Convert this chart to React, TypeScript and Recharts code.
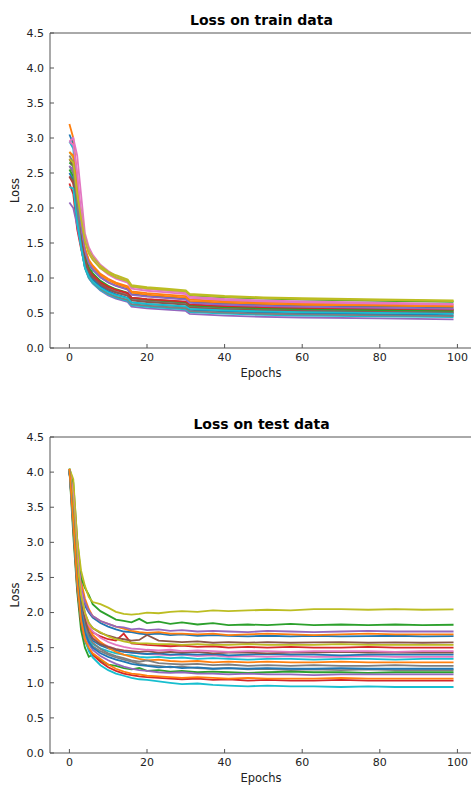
import { LineChart, Line, XAxis, YAxis, ReferenceLine } from 'recharts';

// epochs where each run was sampled
const trainEpochs = [0, 1, 2, 3, 4, 5, 6, 8, 10, 12, 15, 16, 20, 25, 30, 31, 40, 50, 60, 80, 99];
const testEpochs = [0, 1, 2, 3, 4, 5, 6, 8, 10, 12, 14, 16, 18, 20, 23, 26, 29, 33, 37, 41, 46, 51, 57, 63, 70, 77, 84, 91, 99];

const xTicks = [0, 20, 40, 60, 80, 100];
const yTicks = [0, 0.5, 1, 1.5, 2, 2.5, 3, 3.5, 4, 4.5];

// train loss per run
const train00 = [3.05, 2.92, 2.35, 1.68, 1.36, 1.20, 1.12, 1.01, 0.94, 0.89, 0.84, 0.77, 0.745, 0.725, 0.705, 0.66, 0.635, 0.618, 0.607, 0.593, 0.58];
const train01 = [3.2, 3.0, 2.45, 1.77, 1.43, 1.26, 1.18, 1.06, 0.99, 0.935, 0.883, 0.81, 0.783, 0.762, 0.741, 0.694, 0.668, 0.65, 0.638, 0.624, 0.61];
const train02 = [2.65, 2.6, 2.2, 1.92, 1.56, 1.37, 1.28, 1.15, 1.07, 1.02, 0.96, 0.878, 0.85, 0.827, 0.804, 0.752, 0.723, 0.704, 0.691, 0.675, 0.66];
const train03 = [2.35, 2.2, 1.7, 1.42, 1.17, 1.04, 0.975, 0.89, 0.835, 0.795, 0.753, 0.697, 0.677, 0.661, 0.645, 0.609, 0.589, 0.575, 0.567, 0.555, 0.545];
const train04 = [2.08, 2.0, 1.75, 1.45, 1.15, 1.0, 0.923, 0.82, 0.752, 0.705, 0.657, 0.59, 0.567, 0.548, 0.529, 0.486, 0.462, 0.446, 0.436, 0.422, 0.41];
const train05 = [2.7, 2.6, 2.1, 1.62, 1.30, 1.14, 1.06, 0.95, 0.88, 0.83, 0.78, 0.71, 0.685, 0.665, 0.645, 0.60, 0.575, 0.558, 0.547, 0.533, 0.52];
const train06 = [2.95, 3.0, 2.75, 2.2, 1.64, 1.44, 1.33, 1.19, 1.10, 1.03, 0.968, 0.877, 0.845, 0.818, 0.793, 0.734, 0.702, 0.679, 0.665, 0.647, 0.63];
const train07 = [2.6, 2.5, 2.0, 1.56, 1.25, 1.10, 1.02, 0.92, 0.852, 0.805, 0.757, 0.69, 0.667, 0.648, 0.629, 0.586, 0.562, 0.546, 0.536, 0.522, 0.51];
const train08 = [2.8, 2.72, 2.3, 1.95, 1.58, 1.39, 1.30, 1.17, 1.09, 1.04, 0.98, 0.899, 0.87, 0.847, 0.824, 0.772, 0.743, 0.724, 0.711, 0.695, 0.68];
const train09 = [2.95, 2.85, 2.15, 1.45, 1.14, 1.0, 0.926, 0.827, 0.764, 0.719, 0.674, 0.611, 0.589, 0.571, 0.553, 0.512, 0.49, 0.474, 0.464, 0.452, 0.44];
const train10 = [2.5, 2.4, 1.9, 1.52, 1.21, 1.06, 0.983, 0.879, 0.812, 0.765, 0.717, 0.65, 0.627, 0.608, 0.589, 0.546, 0.522, 0.506, 0.496, 0.482, 0.47];
const train11 = [2.8, 2.75, 2.25, 1.75, 1.41, 1.24, 1.16, 1.04, 0.968, 0.916, 0.863, 0.79, 0.763, 0.742, 0.721, 0.674, 0.648, 0.63, 0.618, 0.604, 0.59];
const train12 = [2.55, 2.45, 2.0, 1.63, 1.31, 1.15, 1.07, 0.96, 0.89, 0.84, 0.79, 0.72, 0.695, 0.675, 0.655, 0.61, 0.585, 0.568, 0.557, 0.543, 0.53];
const train13 = [2.45, 2.35, 1.85, 1.54, 1.25, 1.11, 1.04, 0.937, 0.874, 0.829, 0.784, 0.721, 0.699, 0.681, 0.663, 0.622, 0.6, 0.584, 0.574, 0.562, 0.55];
const train14 = [2.6, 2.55, 2.1, 1.72, 1.38, 1.21, 1.13, 1.01, 0.938, 0.886, 0.833, 0.76, 0.733, 0.712, 0.691, 0.644, 0.618, 0.6, 0.588, 0.574, 0.56];
const train15 = [2.45, 2.38, 1.95, 1.55, 1.24, 1.09, 1.01, 0.909, 0.842, 0.795, 0.747, 0.68, 0.657, 0.638, 0.619, 0.576, 0.552, 0.536, 0.526, 0.512, 0.50];
const train16 = [2.95, 2.9, 2.5, 1.95, 1.56, 1.36, 1.27, 1.14, 1.05, 0.992, 0.932, 0.848, 0.818, 0.794, 0.77, 0.716, 0.686, 0.666, 0.652, 0.636, 0.62];
const train17 = [2.75, 2.65, 2.05, 1.45, 1.16, 1.01, 0.941, 0.842, 0.779, 0.734, 0.689, 0.626, 0.604, 0.586, 0.568, 0.527, 0.505, 0.489, 0.479, 0.467, 0.455];
const train18 = [2.7, 2.65, 2.2, 1.85, 1.53, 1.35, 1.26, 1.14, 1.07, 1.01, 0.956, 0.879, 0.852, 0.83, 0.808, 0.758, 0.73, 0.712, 0.7, 0.684, 0.67];
const train19 = [2.3, 2.28, 1.8, 1.45, 1.15, 1.02, 0.949, 0.856, 0.796, 0.754, 0.711, 0.652, 0.63, 0.613, 0.596, 0.558, 0.537, 0.522, 0.513, 0.501, 0.49];

// test loss per run
const test00 = [4.03, 3.55, 2.75, 2.25, 2.1, 2.0, 1.93, 1.85, 1.80, 1.76, 1.73, 1.72, 1.70, 1.69, 1.70, 1.68, 1.69, 1.67, 1.68, 1.67, 1.66, 1.67, 1.66, 1.67, 1.66, 1.665, 1.67, 1.66, 1.665];
const test01 = [4.04, 3.75, 2.95, 2.45, 2.2, 2.05, 1.95, 1.88, 1.84, 1.80, 1.77, 1.74, 1.72, 1.71, 1.72, 1.70, 1.70, 1.69, 1.70, 1.68, 1.69, 1.70, 1.69, 1.68, 1.69, 1.70, 1.69, 1.69, 1.69];
const test02 = [4.05, 3.85, 3.05, 2.5, 2.35, 2.25, 2.12, 2.02, 1.96, 1.90, 1.88, 1.86, 1.91, 1.85, 1.87, 1.84, 1.86, 1.83, 1.85, 1.82, 1.83, 1.82, 1.84, 1.82, 1.83, 1.82, 1.83, 1.82, 1.826];
const test03 = [4.03, 3.4, 2.6, 2.1, 1.9, 1.78, 1.72, 1.66, 1.62, 1.60, 1.70, 1.56, 1.55, 1.54, 1.53, 1.52, 1.53, 1.51, 1.52, 1.50, 1.51, 1.50, 1.51, 1.50, 1.50, 1.51, 1.50, 1.50, 1.50];
const test04 = [4.04, 3.7, 2.9, 2.35, 2.15, 2.02, 1.95, 1.88, 1.84, 1.80, 1.79, 1.76, 1.77, 1.75, 1.76, 1.74, 1.75, 1.73, 1.74, 1.73, 1.72, 1.74, 1.73, 1.72, 1.73, 1.74, 1.73, 1.73, 1.73];
const test05 = [4.02, 3.45, 2.65, 2.2, 1.98, 1.85, 1.78, 1.71, 1.67, 1.64, 1.62, 1.60, 1.61, 1.68, 1.60, 1.59, 1.58, 1.59, 1.57, 1.58, 1.57, 1.58, 1.57, 1.575, 1.58, 1.57, 1.575, 1.57, 1.575];
const test06 = [4.04, 3.6, 2.8, 2.3, 1.95, 1.75, 1.65, 1.57, 1.52, 1.48, 1.45, 1.43, 1.42, 1.41, 1.40, 1.39, 1.40, 1.38, 1.39, 1.37, 1.38, 1.37, 1.38, 1.37, 1.37, 1.38, 1.37, 1.37, 1.37];
const test07 = [4.03, 3.3, 2.5, 2.0, 1.75, 1.6, 1.52, 1.45, 1.40, 1.36, 1.33, 1.30, 1.27, 1.25, 1.24, 1.22, 1.23, 1.21, 1.20, 1.21, 1.19, 1.20, 1.18, 1.19, 1.18, 1.19, 1.18, 1.18, 1.18];
const test08 = [4.05, 3.9, 3.05, 2.6, 2.38, 2.22, 2.15, 2.12, 2.07, 2.01, 1.98, 1.97, 1.98, 2.00, 1.99, 2.01, 2.02, 2.01, 2.03, 2.02, 2.03, 2.04, 2.03, 2.05, 2.05, 2.04, 2.05, 2.04, 2.046];
const test09 = [4.02, 3.35, 2.55, 2.05, 1.78, 1.62, 1.55, 1.49, 1.45, 1.42, 1.40, 1.39, 1.37, 1.36, 1.37, 1.35, 1.36, 1.34, 1.35, 1.34, 1.33, 1.34, 1.34, 1.33, 1.34, 1.34, 1.33, 1.34, 1.34];
const test10 = [4.03, 3.5, 2.7, 2.15, 1.85, 1.68, 1.6, 1.53, 1.49, 1.46, 1.44, 1.43, 1.42, 1.41, 1.42, 1.40, 1.41, 1.40, 1.41, 1.39, 1.40, 1.41, 1.40, 1.40, 1.39, 1.40, 1.40, 1.40, 1.40];
const test11 = [4.04, 3.6, 2.8, 2.25, 1.95, 1.78, 1.68, 1.58, 1.50, 1.44, 1.40, 1.37, 1.34, 1.32, 1.33, 1.31, 1.30, 1.31, 1.29, 1.30, 1.29, 1.30, 1.29, 1.29, 1.30, 1.29, 1.29, 1.29, 1.29];
const test12 = [4.03, 3.1, 2.3, 1.75, 1.5, 1.37, 1.40, 1.32, 1.26, 1.24, 1.21, 1.19, 1.21, 1.17, 1.18, 1.16, 1.17, 1.15, 1.16, 1.15, 1.14, 1.15, 1.16, 1.15, 1.15, 1.14, 1.15, 1.15, 1.15];
const test13 = [4.04, 3.2, 2.35, 1.85, 1.6, 1.48, 1.40, 1.30, 1.22, 1.17, 1.13, 1.11, 1.09, 1.08, 1.07, 1.06, 1.05, 1.06, 1.04, 1.05, 1.03, 1.04, 1.03, 1.03, 1.04, 1.03, 1.03, 1.03, 1.03];
const test14 = [4.03, 3.3, 2.45, 1.95, 1.68, 1.55, 1.47, 1.38, 1.32, 1.27, 1.23, 1.20, 1.18, 1.17, 1.15, 1.14, 1.15, 1.13, 1.13, 1.12, 1.13, 1.12, 1.12, 1.11, 1.12, 1.12, 1.12, 1.12, 1.12];
const test15 = [4.02, 3.5, 2.7, 2.2, 1.9, 1.72, 1.63, 1.55, 1.51, 1.48, 1.46, 1.45, 1.44, 1.45, 1.43, 1.44, 1.43, 1.44, 1.42, 1.43, 1.43, 1.42, 1.43, 1.43, 1.44, 1.43, 1.43, 1.43, 1.43];
const test16 = [4.04, 3.65, 2.85, 2.3, 2.0, 1.82, 1.73, 1.64, 1.58, 1.54, 1.51, 1.49, 1.48, 1.47, 1.46, 1.47, 1.45, 1.46, 1.45, 1.44, 1.45, 1.45, 1.44, 1.45, 1.45, 1.45, 1.44, 1.45, 1.45];
const test17 = [4.03, 3.4, 2.55, 2.05, 1.8, 1.65, 1.57, 1.48, 1.42, 1.38, 1.35, 1.32, 1.30, 1.32, 1.28, 1.27, 1.26, 1.27, 1.25, 1.26, 1.24, 1.25, 1.24, 1.25, 1.24, 1.24, 1.25, 1.24, 1.24];
const test18 = [4.04, 3.55, 2.75, 2.25, 2.0, 1.85, 1.78, 1.72, 1.66, 1.62, 1.59, 1.57, 1.56, 1.56, 1.55, 1.55, 1.54, 1.55, 1.54, 1.54, 1.55, 1.54, 1.54, 1.54, 1.55, 1.54, 1.54, 1.54, 1.54];
const test19 = [4.03, 3.25, 2.4, 1.9, 1.62, 1.45, 1.36, 1.25, 1.18, 1.13, 1.10, 1.07, 1.05, 1.04, 1.02, 1.00, 0.98, 0.99, 0.97, 0.96, 0.95, 0.96, 0.95, 0.95, 0.94, 0.95, 0.94, 0.94, 0.94];
const test20 = [4.02, 3.35, 2.5, 2.0, 1.72, 1.58, 1.50, 1.42, 1.37, 1.33, 1.30, 1.27, 1.25, 1.24, 1.22, 1.23, 1.21, 1.22, 1.20, 1.21, 1.20, 1.21, 1.20, 1.20, 1.21, 1.20, 1.20, 1.20, 1.20];
const test21 = [4.04, 3.3, 2.45, 1.9, 1.62, 1.5, 1.42, 1.34, 1.26, 1.20, 1.16, 1.13, 1.12, 1.10, 1.09, 1.08, 1.07, 1.08, 1.07, 1.06, 1.07, 1.06, 1.06, 1.06, 1.07, 1.06, 1.06, 1.06, 1.06];

const trainRuns = [train00, train01, train02, train03, train04, train05, train06, train07, train08, train09,
  train10, train11, train12, train13, train14, train15, train16, train17, train18, train19];
const testRuns = [test00, test01, test02, test03, test04, test05, test06, test07, test08, test09,
  test10, test11, test12, test13, test14, test15, test16, test17, test18, test19, test20, test21];

const COLORS = ['#1f77b4', '#ff7f0e', '#2ca02c', '#d62728', '#9467bd', '#8c564b', '#e377c2', '#7f7f7f', '#bcbd22', '#17becf'];
const FONT = '"DejaVu Sans", sans-serif';
const AXIS = '#555';
const TEXT = '#222';

function toRows(epochs: number[], runs: number[][]) {
  return epochs.map((epoch, i) => {
    const row: Record<string, number> = { epoch };
    runs.forEach((run, j) => { row['r' + j] = run[i]; });
    return row;
  });
}

interface PanelProps {
  title: string;
  rows: Record<string, number>[];
  count: number;
  height: number;
  plotTop: number;
  plotBottom: number;
}

function LossPanel({ title, rows, count, height, plotTop, plotBottom }: PanelProps) {
  const tickStyle = { fill: TEXT, fontSize: 11, fontFamily: FONT };
  return (
    <div style={{ position: 'relative', width: 471, height }}>
      <LineChart width={471} height={height} data={rows}
        margin={{ top: plotTop, right: 0, bottom: 0, left: 0 }}>
        <XAxis dataKey="epoch" type="number" domain={[-5, 103.5]} ticks={xTicks} interval={0}
          allowDataOverflow height={height - plotBottom} tickSize={-4} tickMargin={9}
          axisLine={{ stroke: AXIS }} tickLine={{ stroke: AXIS }} tick={tickStyle} />
        <YAxis type="number" domain={[0, 4.5]} ticks={yTicks} interval={0} width={50}
          tickSize={-4} tickMargin={10} tickFormatter={(v: number) => v.toFixed(1)}
          axisLine={{ stroke: AXIS }} tickLine={{ stroke: AXIS }} tick={tickStyle} />
        <ReferenceLine y={4.5} stroke={AXIS} />
        {Array.from({ length: count }, (_, j) => (
          <Line key={j} dataKey={'r' + j} type="linear" stroke={COLORS[j % 10]} strokeWidth={1.8}
            dot={false} isAnimationActive={false} />
        ))}
      </LineChart>
      <svg width={471} height={height} style={{ position: 'absolute', left: 0, top: 0, pointerEvents: 'none' }}>
        <text x={261.5} y={plotTop - 8} textAnchor="middle" fontFamily={FONT} fontWeight="bold" fontSize={14} fill="#000">
          {title}
        </text>
        <text x={261} y={plotBottom + 29} textAnchor="middle" fontFamily={FONT} fontSize={11.5} fill={TEXT}>
          Epochs
        </text>
        <text transform={`translate(19, ${(plotTop + plotBottom) / 2}) rotate(-90)`} textAnchor="middle"
          fontFamily={FONT} fontSize={11.5} fill={TEXT}>
          Loss
        </text>
      </svg>
    </div>
  );
}

export default function App() {
  return (
    <div style={{ position: 'absolute', left: 0, top: 0, width: 471, height: 785, background: '#fff' }}>
      <LossPanel title="Loss on train data" rows={toRows(trainEpochs, trainRuns)} count={trainRuns.length}
        height={392} plotTop={33} plotBottom={348} />
      <LossPanel title="Loss on test data" rows={toRows(testEpochs, testRuns)} count={testRuns.length}
        height={393} plotTop={45} plotBottom={361} />
    </div>
  );
}
